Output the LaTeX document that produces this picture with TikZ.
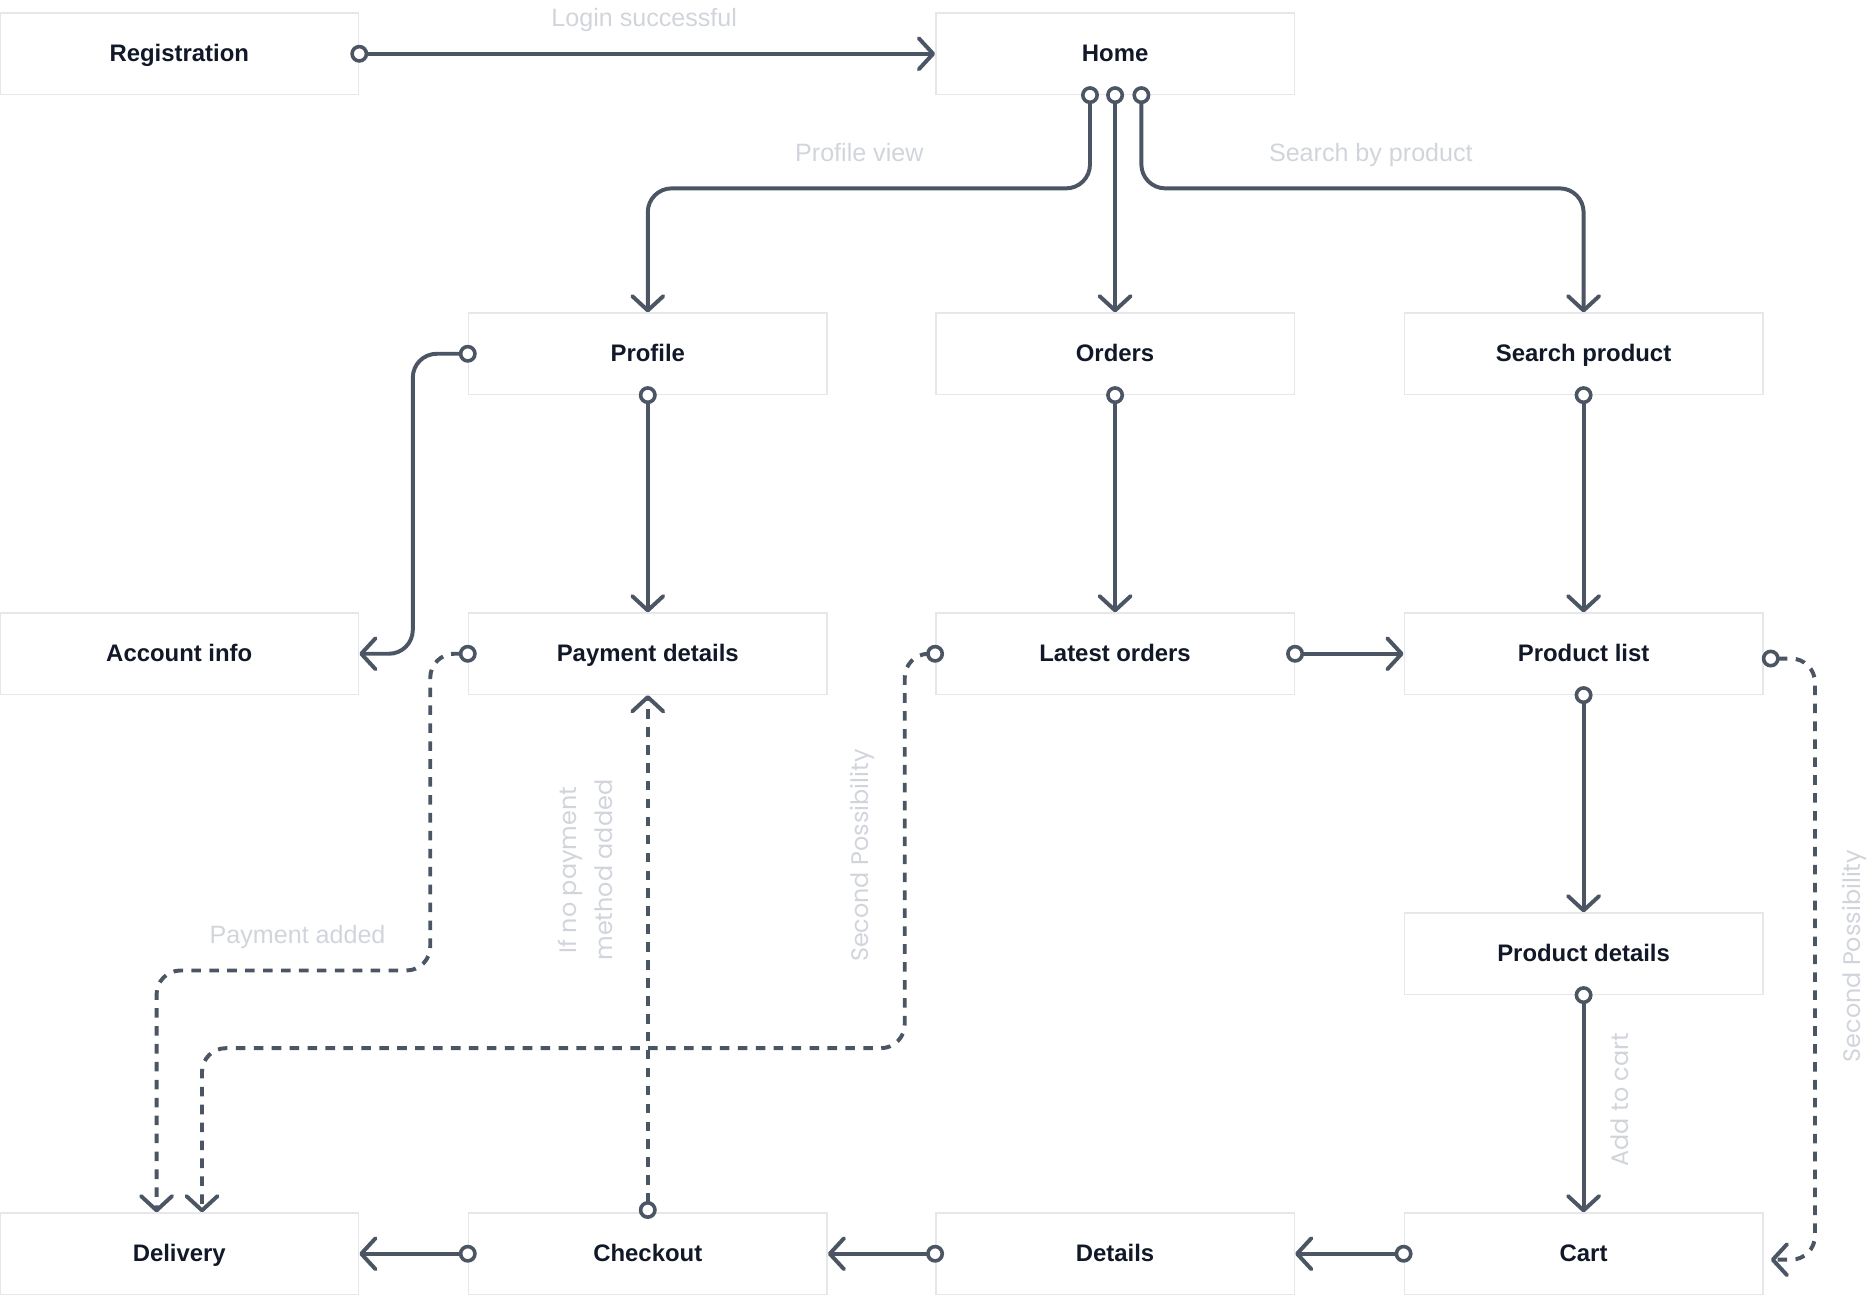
\documentclass[tikz,border=0pt]{standalone}
\usepackage{fontspec}
\setmainfont{Liberation Sans}
\newfontfamily\labfont{Poppins}
\usetikzlibrary{arrows.meta,calc}
\definecolor{conn}{HTML}{4B5563}
\definecolor{boxline}{HTML}{E5E7EB}
\definecolor{txt}{HTML}{111827}
\definecolor{labc}{HTML}{D1D5DB}
\begin{document}
\begin{tikzpicture}[x=1pt,y=-1pt,
  box/.style={draw=boxline, line width=1.2pt, minimum width=300pt, minimum height=68pt, inner sep=0pt,
    text height=17.5pt, text depth=4pt,
    font=\fontsize{20}{24}\selectfont\bfseries, text=txt},
  link/.style={draw=conn, line width=3.3pt, rounded corners=20pt,
    {Circle[open,length=15pt,width=15pt,line width=3pt,fill=white]}-{Straight Barb[length=12pt,width=26pt,round]},
    shorten <=-7.5pt},
  dlink/.style={link, dash pattern=on 8pt off 7pt},
  lab/.style={text=labc, text height=19pt, text depth=4pt, font=\fontsize{21}{24}\selectfont},
  rlab/.style={text=labc, font=\labfont\fontsize{20}{30}\selectfont, rotate=90, align=center}]
\useasboundingbox (0,0) rectangle (1568,1085);

% boxes
\node[box] (reg)  at (150,45)   {Registration};
\node[box] (home) at (933,45)   {Home};
\node[box] (prof) at (542,296)  {Profile};
\node[box] (ord)  at (933,296)  {Orders};
\node[box] (sp)   at (1325,296) {Search product};
\node[box] (acc)  at (150,547)  {Account info};
\node[box] (pay)  at (542,547)  {Payment details};
\node[box] (lat)  at (933,547)  {Latest orders};
\node[box] (pl)   at (1325,547) {Product list};
\node[box] (pd)   at (1325,798) {Product details};
\node[box] (del)  at (150,1049) {Delivery};
\node[box] (chk)  at (542,1049) {Checkout};
\node[box] (det)  at (933,1049) {Details};
\node[box] (cart) at (1325,1049){Cart};

% solid connectors
\draw[link] (reg.east) -- (home.west);
\draw[link] ($(home.south)+(-21,0)$) -- ++(0,78) -| (prof.north);
\draw[link] (home.south) -- (ord.north);
\draw[link] ($(home.south)+(22,0)$) -- ++(0,78) -| (sp.north);
\draw[link] (prof.west) -- ++(-46,0) |- (acc.east);
\draw[link] (prof.south) -- (pay.north);
\draw[link] (ord.south) -- (lat.north);
\draw[link] (sp.south) -- (pl.north);
\draw[link] (lat.east) -- (pl.west);
\draw[link] (pl.south) -- (pd.north);
\draw[link] (pd.south) -- (cart.north);
\draw[link] (cart.west) -- (det.east);
\draw[link] (det.west) -- (chk.east);
\draw[link] (chk.west) -- (del.east);

% dashed connectors
\draw[dlink] (pay.west) -| (360,812) -| ($(del.north)+(-19,0)$);
\draw[dlink] (lat.west) -| (757,877) -| ($(del.north)+(19,0)$);
\draw[dlink] ($(chk.north)+(0,-2)$) -- (pay.south);
\draw[dlink] ($(pl.east)+(6,4)$) -| ($(cart.east)+(43,5)$) -- ($(cart.east)+(6,5)$);

% labels
\node[lab] (l1) at (539,15) {Login successful};
\node[lab] (l2) at (719,128) {Profile view};
\node[lab] (l3) at (1147,128) {Search by product};
\node[lab] (l4) at (249,782) {Payment added};
\node[rlab] (l5) at (490,728) {If no payment\\method added};
\node[rlab] (l6) at (722,716) {Second Possibility};
\node[rlab] (l7) at (1355,920) {Add to cart};
\node[rlab] (l8) at (1552,800) {Second Possibility};
\end{tikzpicture}
\end{document}
